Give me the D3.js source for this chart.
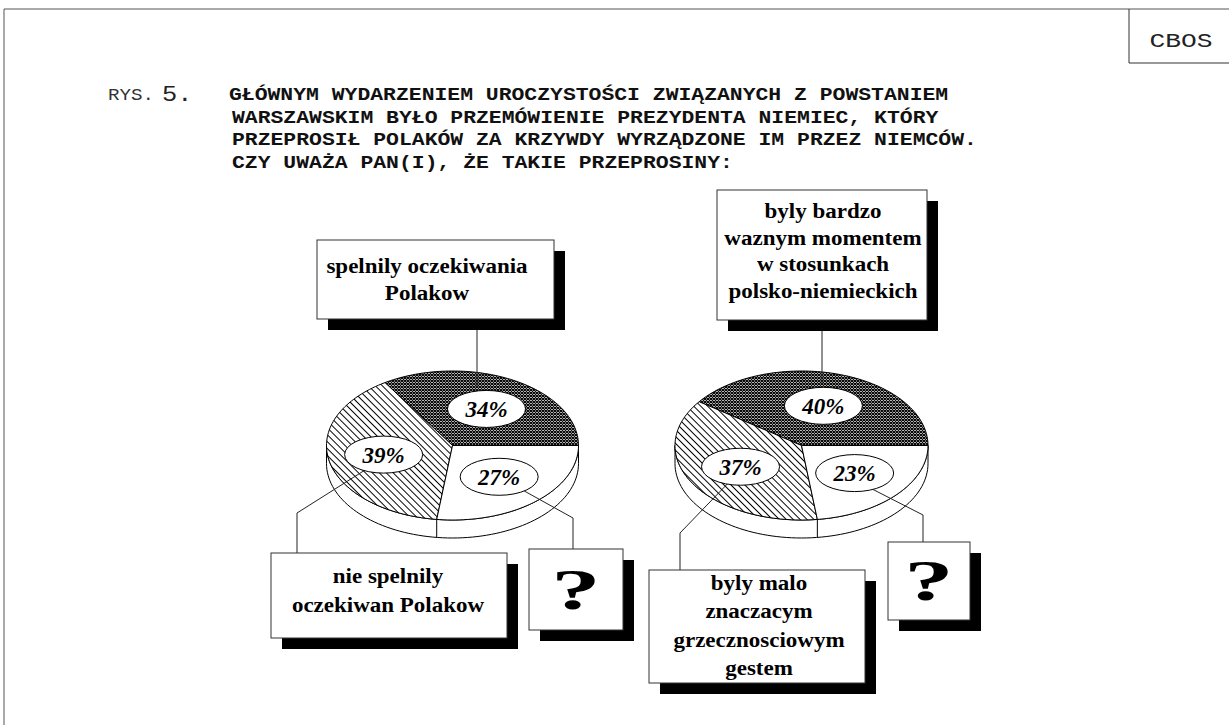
<!DOCTYPE html>
<html><head><meta charset="utf-8">
<script src="https://cdn.jsdelivr.net/npm/d3@7"></script>
<style>html,body{margin:0;padding:0;background:#fff;} svg{display:block;}</style>
</head><body>
<svg id="chart" width="1229" height="725"></svg>
<script>
// ---------- data ----------
const titlePrefix = ["RYS.", "5."];
const titleLines = [
  "GŁÓWNYM WYDARZENIEM UROCZYSTOŚCI ZWIĄZANYCH Z POWSTANIEM",
  "WARSZAWSKIM BYŁO PRZEMÓWIENIE PREZYDENTA NIEMIEC, KTÓRY",
  "PRZEPROSIŁ POLAKÓW ZA KRZYWDY WYRZĄDZONE IM PRZEZ NIEMCÓW.",
  "CZY UWAŻA PAN(I), ŻE TAKIE PRZEPROSINY:"
];
const sourceLabel = "CBOS";
const leftCategories = [["spelnily oczekiwania", "Polakow"], ["nie spelnily", "oczekiwan Polakow"], ["?"]];
const leftValues = [34, 39, 27];
const rightCategories = [["byly bardzo", "waznym momentem", "w stosunkach", "polsko-niemieckich"],
                         ["byly malo", "znaczacym", "grzecznosciowym", "gestem"], ["?"]];
const rightValues = [40, 37, 23];

// ---------- styles / layout ----------
const sliceFills = ["url(#cross)", "url(#hatch)", "#ffffff"];
const pieLayouts = [
  { cx: 452.5, cy: 445.5, rx: 126, ry: 74.5, depth: 18,
    boxes: [
      { x: 317, y: 240, w: 237, h: 79, tx: 427, ty: 273, lh: 27, anchorX: 477 },
      { x: 271, y: 553, w: 236, h: 85, tx: 388, ty: 583, lh: 29, edge: 120, elbow: [297, 513] },
      { x: 529, y: 549, w: 94, h: 81, q: true, edge: 50, elbow: [573, 518] }
    ] },
  { cx: 801.5, cy: 445.5, rx: 126.5, ry: 74.5, depth: 18,
    boxes: [
      { x: 717, y: 190, w: 210, h: 130, tx: 823, ty: 218, lh: 26.7, anchorX: 822 },
      { x: 649, y: 570, w: 216, h: 113, tx: 759, ty: 590, lh: 28.3, edge: 110, elbow: [680, 533] },
      { x: 888, y: 542, w: 82, h: 78, q: true, edge: 62, elbow: [923, 515] }
    ] }
];
const shadowOff = 11;
const labelRx = 39, labelRy = 18.5, labelFrac = 0.56;

const svg = d3.select("#chart");
const defs = svg.append("defs");
const cross = defs.append("pattern").attr("id", "cross").attr("patternUnits", "userSpaceOnUse")
  .attr("width", 3).attr("height", 3);
cross.append("rect").attr("width", 3).attr("height", 3).attr("fill", "#fff");
cross.append("path").attr("d", "M0,0L3,3M3,0L0,3").attr("stroke", "#000").attr("stroke-width", 1.15);
const hatch = defs.append("pattern").attr("id", "hatch").attr("patternUnits", "userSpaceOnUse")
  .attr("width", 4.9).attr("height", 4.9).attr("patternTransform", "rotate(-45)");
hatch.append("rect").attr("width", 4.9).attr("height", 4.9).attr("fill", "#fff");
hatch.append("line").attr("x1", 2.45).attr("y1", 0).attr("x2", 2.45).attr("y2", 4.9)
  .attr("stroke", "#000").attr("stroke-width", 1);

// ---------- frame ----------
svg.append("line").attr("x1", 4).attr("y1", 9).attr("x2", 1229).attr("y2", 9).attr("stroke", "#555");
svg.append("line").attr("x1", 4).attr("y1", 9).attr("x2", 4).attr("y2", 725).attr("stroke", "#555");
svg.append("path").attr("d", "M1129,9V63H1229").attr("fill", "none").attr("stroke", "#333");
svg.append("g").attr("transform", "translate(1181,47) scale(1.25,1)")
  .append("text").attr("text-anchor", "middle").attr("font-family", "Liberation Mono, Courier New, monospace")
  .attr("font-size", 21).attr("fill", "#222").text(sourceLabel);

// ---------- title ----------
svg.append("g").attr("transform", "translate(108,100) scale(1.2,1)")
  .append("text").attr("font-family", "Liberation Mono, monospace").attr("font-size", 16).attr("fill", "#333").text(titlePrefix[0]);
svg.append("g").attr("transform", "translate(162,101) scale(1.15,1)")
  .append("text").attr("font-family", "Liberation Mono, monospace").attr("font-size", 22).attr("fill", "#222").text(titlePrefix[1]);
titleLines.forEach((t, i) => {
  svg.append("g").attr("transform", `translate(${i === 0 ? 229 : 232},${100 + i * 22.7}) scale(1.19,1)`)
    .append("text").attr("font-family", "Liberation Mono, monospace").attr("font-weight", "bold")
    .attr("font-size", 18).attr("fill", "#111").text(t);
});

// ---------- pies ----------
const pieGen = d3.pie().sort(null).value(d => d)
  .startAngle(Math.PI / 2).endAngle(Math.PI / 2 - 2 * Math.PI);
const line = d3.line();

function drawPie(values, cats, L) {
  const g = svg.append("g");
  const ept = (a, f = 1) => [L.cx + L.rx * f * Math.sin(a), L.cy - L.ry * f * Math.cos(a)];
  const samp = (a0, a1, n = 80) => d3.range(n + 1).map(i => a0 + (a1 - a0) * i / n);
  const front = samp(Math.PI / 2, 3 * Math.PI / 2).map(a => ept(a));
  const frontLow = front.map(p => [p[0], p[1] + L.depth]).reverse();
  g.append("path").attr("d", line(front.concat(frontLow)) + "Z")
    .attr("fill", "#fff").attr("stroke", "#000").attr("stroke-width", 1);
  const arcs = pieGen(values);
  arcs.forEach((d, i) => {
    const pts = [[L.cx, L.cy]].concat(samp(d.startAngle, d.endAngle).map(a => ept(a)));
    g.append("path").attr("d", line(pts) + "Z").attr("fill", sliceFills[i])
      .attr("stroke", "#000").attr("stroke-width", 1).attr("stroke-linejoin", "round");
  });
  arcs.forEach(d => {
    const a = d.endAngle;
    if (Math.cos(a) < -0.05) {
      const p = ept(a);
      g.append("line").attr("x1", p[0]).attr("y1", p[1]).attr("x2", p[0]).attr("y2", p[1] + L.depth)
        .attr("stroke", "#000");
    }
  });
  const labPos = arcs.map(d => ept((d.startAngle + d.endAngle) / 2, labelFrac));
  arcs.forEach((d, i) => {
    const b = L.boxes[i];
    const lp = labPos[i];
    let pts;
    if (b.anchorX !== undefined) {
      pts = [[b.anchorX, b.y + b.h + shadowOff], [b.anchorX, lp[1] - labelRy - 3.5]];
    } else {
      const e = b.edge * Math.PI / 180;
      pts = [[lp[0] + labelRx * Math.cos(e), lp[1] + labelRy * Math.sin(e)], b.elbow, [b.elbow[0], b.y]];
    }
    g.append("path").attr("d", line(pts)).attr("fill", "none").attr("stroke", "#222").attr("stroke-width", 1);
  });
  arcs.forEach((d, i) => {
    const lp = labPos[i];
    g.append("ellipse").attr("cx", lp[0]).attr("cy", lp[1]).attr("rx", labelRx).attr("ry", labelRy)
      .attr("fill", "#fff").attr("stroke", "#000").attr("stroke-width", 1);
    g.append("text").attr("x", lp[0]).attr("y", lp[1] + 8).attr("text-anchor", "middle")
      .attr("font-family", "Liberation Serif, Times New Roman, serif").attr("font-weight", "bold")
      .attr("font-style", "italic").attr("font-size", 23).attr("fill", "#000").text(d.data + "%");
  });
  L.boxes.forEach((b, i) => {
    g.append("rect").attr("x", b.x + shadowOff).attr("y", b.y + shadowOff).attr("width", b.w).attr("height", b.h).attr("fill", "#000");
    g.append("rect").attr("x", b.x).attr("y", b.y).attr("width", b.w).attr("height", b.h)
      .attr("fill", "#fff").attr("stroke", "#333").attr("stroke-width", 1);
    if (b.q) {
      g.append("g").attr("transform", `translate(${b.x + b.w / 2},${b.y + b.h / 2 + 19}) scale(1.7,1)`)
        .append("text").attr("text-anchor", "middle").attr("font-family", "Liberation Serif, serif")
        .attr("font-weight", "bold").attr("font-size", 58).attr("fill", "#000").text(cats[i][0]);
    } else {
      cats[i].forEach((t, j) => {
        g.append("g").attr("transform", `translate(${b.tx},${b.ty + j * b.lh}) scale(1.07,1)`)
          .append("text").attr("text-anchor", "middle").attr("font-family", "Liberation Serif, Times New Roman, serif")
          .attr("font-weight", "bold").attr("font-size", 21.5).attr("fill", "#000").text(t);
      });
    }
  });
}
drawPie(leftValues, leftCategories, pieLayouts[0]);
drawPie(rightValues, rightCategories, pieLayouts[1]);
</script>
</body></html>
